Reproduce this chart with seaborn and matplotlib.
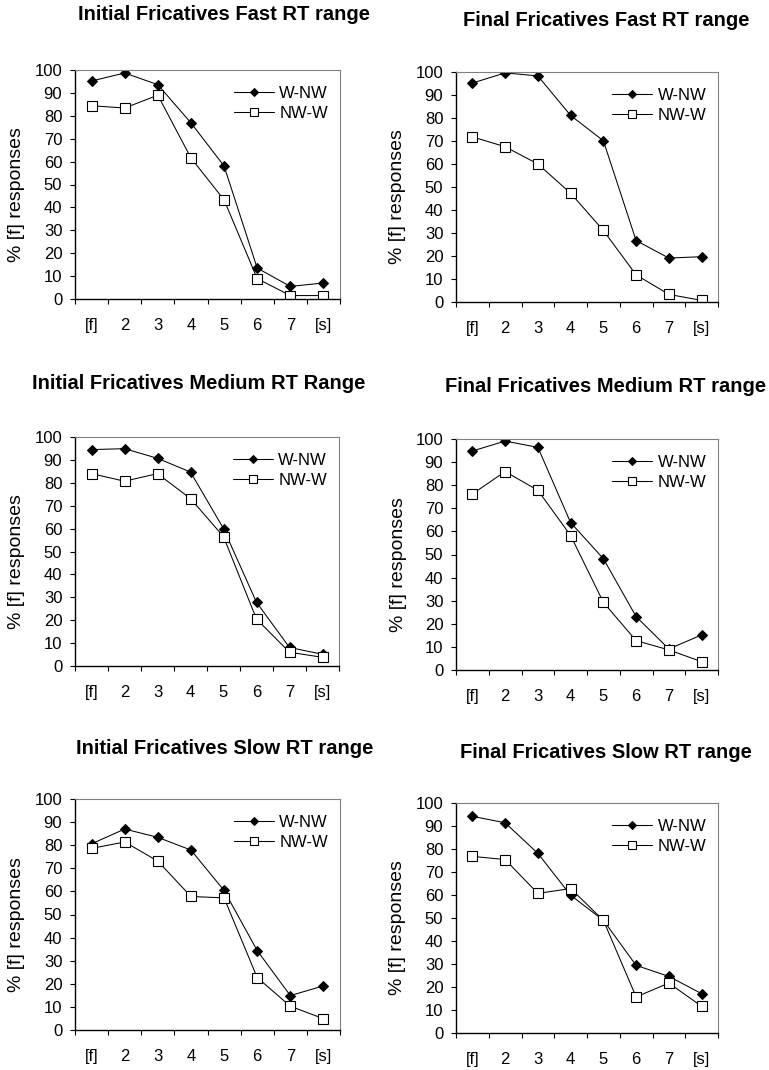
import numpy as np
import pandas as pd
import matplotlib
matplotlib.use("Agg")
import matplotlib.pyplot as plt
import seaborn as sns

# ----------------- Data -----------------
steps = ["[f]", "2", "3", "4", "5", "6", "7", "[s]"]

init_fast_wnw = [95.2, 98.7, 93.6, 76.9, 58.1, 13.5, 5.5, 7.0]
init_fast_nww = [84.4, 83.4, 89.0, 61.6, 43.3, 8.9, 1.5, 1.5]

final_fast_wnw = [95.2, 99.6, 98.3, 81.1, 70.1, 26.7, 19.1, 19.7]
final_fast_nww = [71.8, 67.5, 60.0, 47.3, 31.1, 11.8, 3.3, 0.7]

init_medium_wnw = [94.5, 94.9, 90.7, 84.7, 60.0, 27.8, 8.1, 5.1]
init_medium_nww = [84.0, 80.7, 84.0, 73.1, 56.5, 20.5, 6.0, 3.8]

final_medium_wnw = [94.8, 99.1, 96.4, 63.8, 48.2, 23.1, 9.1, 15.2]
final_medium_nww = [76.2, 85.9, 77.8, 58.2, 29.3, 12.7, 8.7, 3.6]

init_slow_wnw = [80.6, 87.0, 83.4, 77.9, 60.4, 34.4, 14.9, 19.1]
init_slow_nww = [78.6, 81.4, 73.1, 57.8, 57.2, 22.7, 10.3, 4.9]

final_slow_wnw = [94.2, 91.4, 78.1, 59.9, 49.0, 29.4, 24.6, 17.1]
final_slow_nww = [76.8, 75.4, 60.7, 62.8, 49.0, 15.7, 21.7, 11.6]

titles = [
    "Initial Fricatives Fast RT range",
    "Final Fricatives Fast RT range",
    "Initial Fricatives Medium RT Range",
    "Final Fricatives Medium RT range",
    "Initial Fricatives Slow RT range",
    "Final Fricatives Slow RT range",
]
series_wnw = [init_fast_wnw, final_fast_wnw, init_medium_wnw,
              final_medium_wnw, init_slow_wnw, final_slow_wnw]
series_nww = [init_fast_nww, final_fast_nww, init_medium_nww,
              final_medium_nww, init_slow_nww, final_slow_nww]

# ----------------- Layout (pixels) -----------------
W, H = 769, 1070
# left, top, width, height of plot area; title centre x, y; ylabel x
layout = [
    (75, 70, 265, 229, 224, 15, 17),
    (456, 72, 262, 230, 606, 20, 398),
    (75, 437, 264, 229, 199, 383, 17),
    (456, 439, 262, 231, 606, 387, 399),
    (75, 799, 265, 231, 225, 749, 17),
    (456, 803, 262, 230, 606, 752, 397),
]

sns.set_style("ticks")
plt.rcParams["font.family"] = ["Liberation Sans", "DejaVu Sans"]
plt.rcParams["text.color"] = "black"
plt.rcParams["xtick.color"] = "black"
plt.rcParams["ytick.color"] = "black"
plt.rcParams["axes.labelcolor"] = "black"

fig = plt.figure(figsize=(W / 100, H / 100), dpi=100)
fs = 12

for title, wnw, nww, (l, t, w, h, tx, ty, yx) in zip(titles, series_wnw, series_nww, layout):
    ax = fig.add_axes([l / W, 1 - (t + h) / H, w / W, h / H])
    df = pd.DataFrame({
        "pos": list(range(len(steps))) * 2,
        "pct": wnw + nww,
        "series": ["W-NW"] * len(steps) + ["NW-W"] * len(steps),
    })
    sns.lineplot(data=df[df.series == "W-NW"], x="pos", y="pct", ax=ax,
                 color="black", lw=0.75, marker="D", ms=5.2, mfc="black",
                 mec="black", label="W-NW")
    sns.lineplot(data=df[df.series == "NW-W"], x="pos", y="pct", ax=ax,
                 color="black", lw=0.75, marker="s", ms=7, mfc="white",
                 mec="black", mew=0.8, label="NW-W")

    ax.set_xlim(-0.5, len(steps) - 0.5)
    ax.set_ylim(0, 100)
    ax.set_yticks(np.arange(0, 101, 10))
    ax.set_xticks(np.arange(-0.5, len(steps), 1.0))
    ax.set_xticklabels([])
    ax.set_xticks(np.arange(len(steps)), minor=True)
    ax.set_xticklabels(steps, minor=True)
    ax.tick_params(axis="x", which="major", length=3.6, width=0.8, direction="out")
    ax.tick_params(axis="x", which="minor", length=0, pad=14, labelsize=fs)
    ax.tick_params(axis="y", length=3.6, width=0.8, direction="out", pad=5.5, labelsize=fs)
    ax.set_xlabel("")
    ax.set_ylabel("")

    for side in ["left", "bottom"]:
        ax.spines[side].set_color("black")
        ax.spines[side].set_linewidth(1.0)
    for side in ["top", "right"]:
        ax.spines[side].set_visible(True)
        ax.spines[side].set_color("#808080")
        ax.spines[side].set_linewidth(0.8)

    ax.legend(loc="upper right", bbox_to_anchor=(0.955, 0.93), frameon=False,
              fontsize=fs, handlelength=2.4, handletextpad=0.3,
              labelspacing=0.3, borderpad=0, borderaxespad=0, markerscale=0.75)

    fig.text(tx / W, 1 - ty / H, title, ha="center", va="center",
             fontsize=14.5, fontweight="bold")
    fig.text(yx / W, 1 - (t + h / 2 + 10) / H, "% [f] responses", rotation=90,
             ha="center", va="center", fontsize=14)

fig.savefig("out.png", dpi=100)
